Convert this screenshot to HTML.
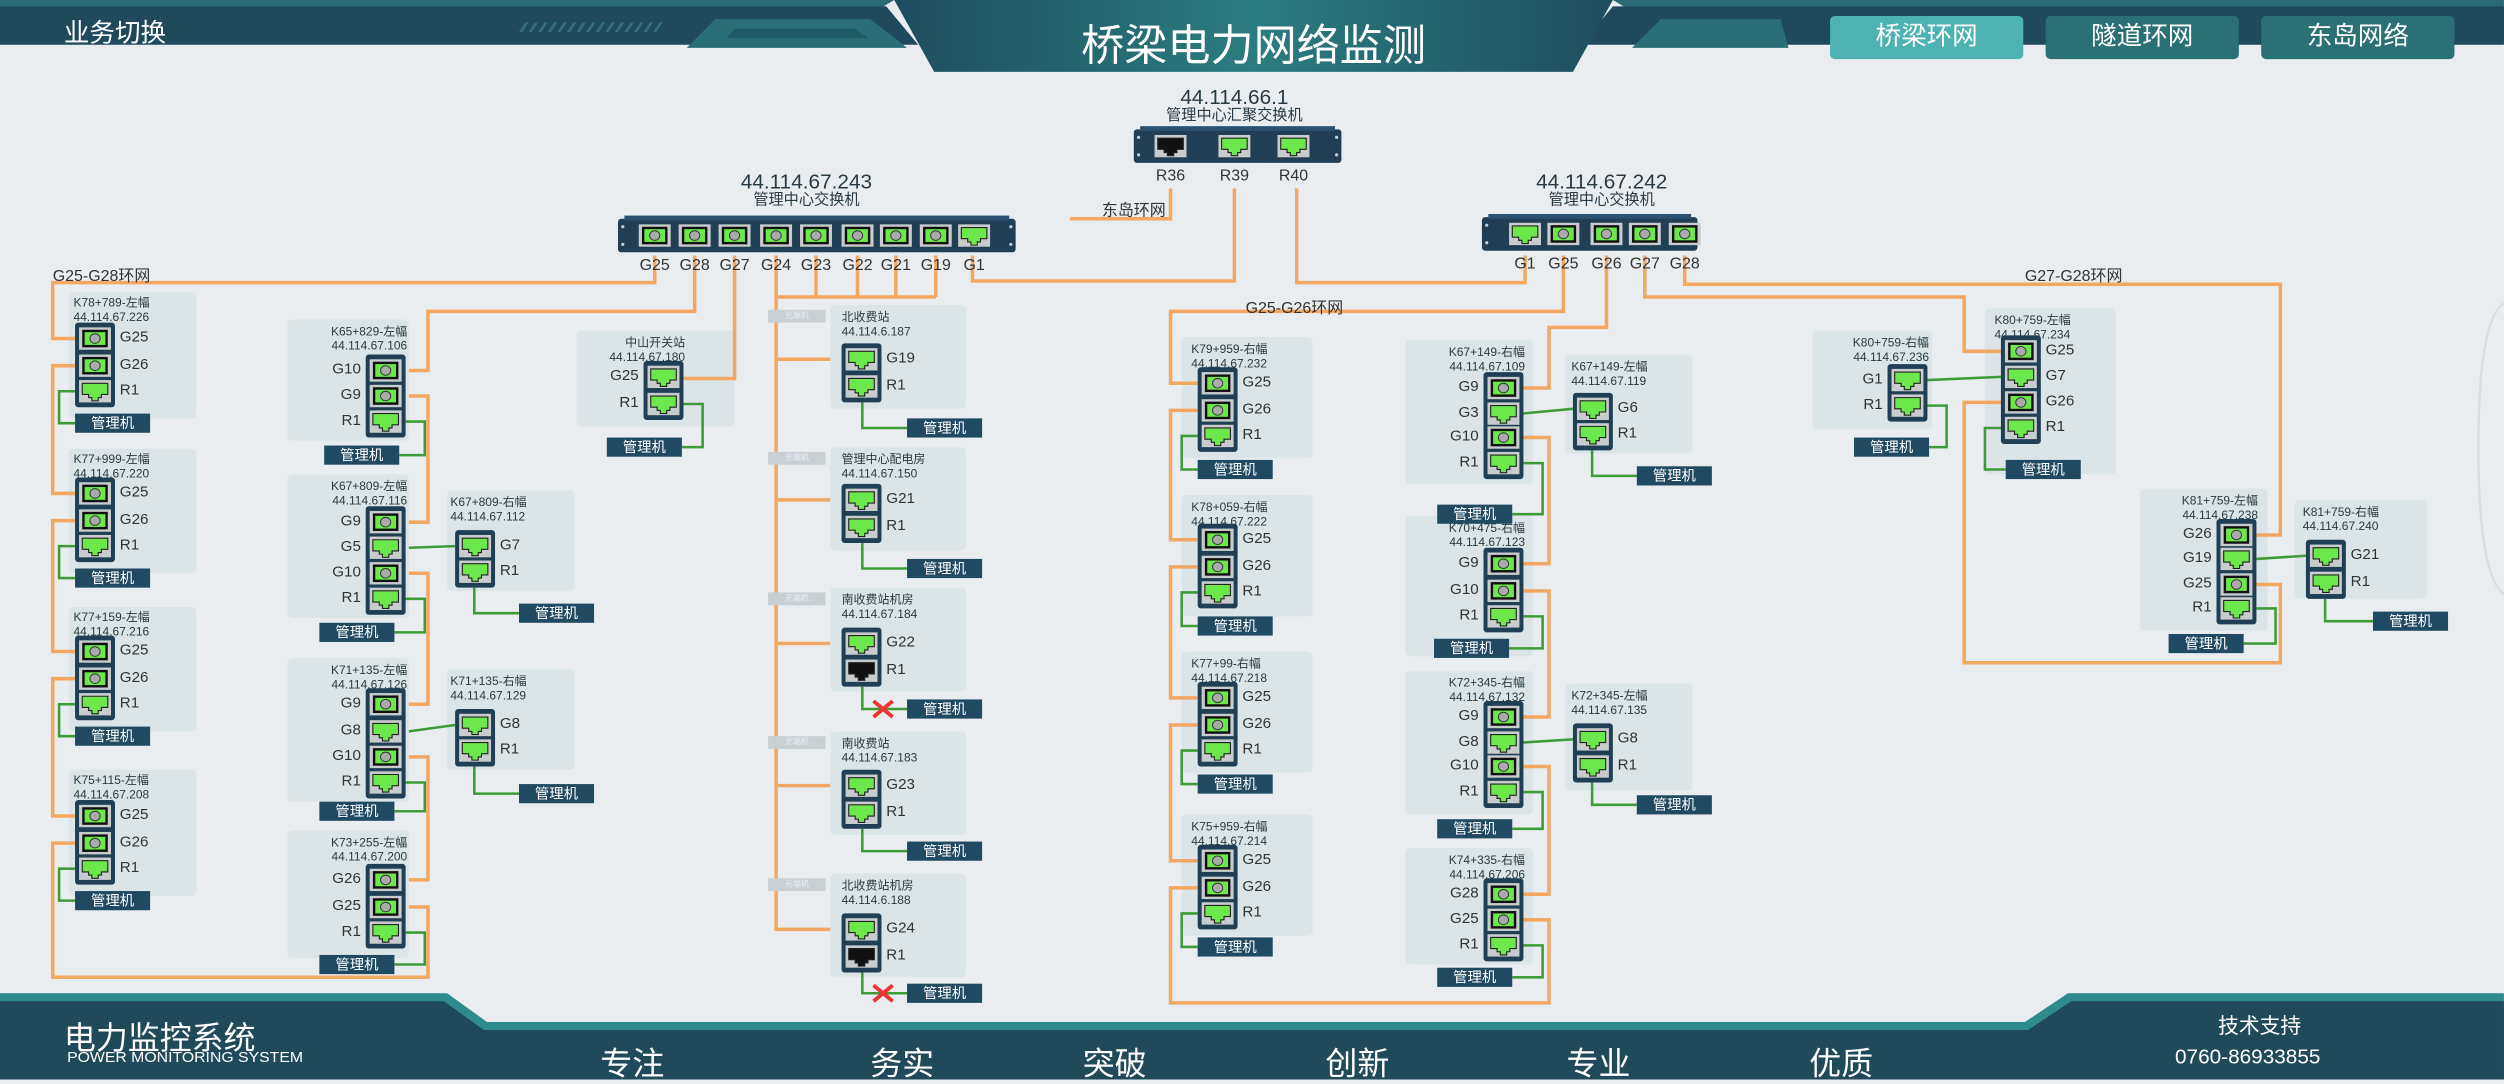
<!DOCTYPE html>
<html><head><meta charset="utf-8"><style>
*{margin:0;padding:0;box-sizing:border-box}
html,body{width:2504px;height:1080px;overflow:hidden;background:#e9edf0}
#w{position:absolute;left:0;top:0;width:1568px;height:676px;transform:scale(1.5969);transform-origin:0 0;font-family:"Liberation Sans","Noto Sans CJK SC",sans-serif;color:#333}
.a{position:absolute;white-space:nowrap}
.st{position:absolute;background:#dbe5e7;border-radius:3px}
.t{position:absolute;font-size:7.5px;line-height:8.5px;color:#2a3a40;white-space:nowrap}
.dv{position:absolute;background:#203f55;border-radius:2px;width:25px}
.pl{position:absolute;font-size:9.5px;line-height:10px;color:#333;white-space:nowrap}
.mg{position:absolute;background:#1f4a62;color:#fff;font-size:9px;line-height:12px;height:12px;width:47px;text-align:center}
.tab{position:absolute;top:10px;height:27px;width:121px;border-radius:3px;color:#fff;font-size:16px;line-height:27px;text-align:center}
.sl{position:absolute;font-size:10px;line-height:10px;color:#333}
.tag{position:absolute;background:#c9d0d4;color:#eef;font-size:5px;line-height:8px;width:36px;height:8px;text-align:center}
svg{position:absolute;left:0;top:0}
</style></head><body><div id="w">
<svg width="1568" height="676" style="z-index:0">
<defs><linearGradient id="tg" x1="0" x2="1"><stop offset="0" stop-color="#1e4d5e"/><stop offset="0.5" stop-color="#2b7d80"/><stop offset="1" stop-color="#1e4d5e"/></linearGradient></defs>
<polygon points="0,0 1568,0 1568,26 1262,26 1262,18 1040,18 1010,0 560,0 530,18 0,18" fill="#2a6a73"/>
<polygon points="0,4 555,4 575,28 0,28" fill="#1f4a5c"/>
<polygon points="1568,4 1010,4 990,28 1568,28" fill="#1f4a5c"/>
<polygon points="560,0 1010,0 985,45 585,45" fill="url(#tg)"/>
<polygon points="448,12 545,12 568,30 430,30" fill="#2a6f76"/>
<polygon points="460,18 535,18 544,24 455,24" fill="#1d5a63"/>
<polygon points="1040,12 1115,12 1120,30 1022,30" fill="#2a6f76"/>
<g fill="#3e8a92" opacity=".6">
<polygon points="325,20 329,14 331,14 327,20"/><polygon points="331,20 335,14 337,14 333,20"/><polygon points="337,20 341,14 343,14 339,20"/><polygon points="343,20 347,14 349,14 345,20"/><polygon points="349,20 353,14 355,14 351,20"/><polygon points="355,20 359,14 361,14 357,20"/><polygon points="361,20 365,14 367,14 363,20"/><polygon points="367,20 371,14 373,14 369,20"/><polygon points="373,20 377,14 379,14 375,20"/><polygon points="379,20 383,14 385,14 381,20"/><polygon points="385,20 389,14 391,14 387,20"/><polygon points="391,20 395,14 397,14 393,20"/><polygon points="397,20 401,14 403,14 399,20"/><polygon points="403,20 407,14 409,14 405,20"/><polygon points="409,20 413,14 415,14 411,20"/>
</g>
<polygon points="0,622 280,622 305,640 1268,640 1295,622 1568,622 1568,676 0,676" fill="#2f8a8c"/>
<polygon points="0,627 278,627 303,645 1270,645 1297,627 1568,627 1568,676 0,676" fill="#1e4a5a"/>
</svg>
<div class="a" style="left:40px;top:7px;font-size:16px;color:#fff">业务切换</div>
<div class="a" style="left:600px;top:7px;width:370px;text-align:center;font-size:27px;color:#fff">桥梁电力网络监测</div>
<div class="tab" style="left:1146px;background:#4fb2b2">桥梁环网</div>
<div class="tab" style="left:1281px;background:#2b7074">隧道环网</div>
<div class="tab" style="left:1416px;background:#2b7074">东岛网络</div>
<div class="a" style="left:40px;top:634px;font-size:20px;color:#fff">电力监控系统</div>
<div class="a" style="left:42px;top:657px;font-size:9px;color:#fff;transform:scaleX(1.1);transform-origin:0 0">POWER MONITORING SYSTEM</div>
<div class="a" style="left:376px;top:650px;font-size:20px;color:#fff">专注</div>
<div class="a" style="left:545px;top:650px;font-size:20px;color:#fff">务实</div>
<div class="a" style="left:678px;top:650px;font-size:20px;color:#fff">突破</div>
<div class="a" style="left:830px;top:650px;font-size:20px;color:#fff">创新</div>
<div class="a" style="left:981px;top:650px;font-size:20px;color:#fff">专业</div>
<div class="a" style="left:1133px;top:650px;font-size:20px;color:#fff">优质</div>
<div class="a" style="left:1389px;top:632px;font-size:13px;color:#fff">技术支持</div>
<div class="a" style="left:1362px;top:654px;font-size:13px;color:#fff">0760-86933855</div>
<div id="g"></div>
</div>
<script>
var G=document.getElementById('g'),H='',S='',T='';
function st(x,y,w,h){H+='<div class="st" style="left:'+x+'px;top:'+y+'px;width:'+w+'px;height:'+h+'px"></div>'}
function tt(x,y,a,b,al){var s=al=='r'?'right:'+(1568-x)+'px':'left:'+x+'px';var ta=al=='r'?'text-align:right;':'';T+='<div class="t" style="'+s+';top:'+y+'px;'+ta+'">'+a+'<br>'+b+'</div>'}
function port(cx,cy,type){
 var s='<rect x="'+(cx-10)+'" y="'+(cy-7)+'" width="20" height="14" fill="#c8cccc"/>';
 if(type=='f'){s+='<rect x="'+(cx-8)+'" y="'+(cy-5.5)+'" width="16" height="11" fill="#111"/><rect x="'+(cx-6.5)+'" y="'+(cy-4)+'" width="13" height="8" fill="#6de84c"/><ellipse cx="'+cx+'" cy="'+cy+'" rx="3.2" ry="3" fill="#aaa" stroke="#333" stroke-width=".6"/>'}
 else{var c=type=='b'?'#111':'#6de84c';s+='<polygon points="'+(cx-8)+','+(cy-5)+' '+(cx+8)+','+(cy-5)+' '+(cx+8)+','+(cy+2)+' '+(cx+4)+','+(cy+2)+' '+(cx+4)+','+(cy+4)+' '+(cx+2)+','+(cy+4)+' '+(cx+2)+','+(cy+6)+' '+(cx-2)+','+(cy+6)+' '+(cx-2)+','+(cy+4)+' '+(cx-4)+','+(cy+4)+' '+(cx-4)+','+(cy+2)+' '+(cx-8)+','+(cy+2)+'" fill="'+c+'" stroke="#222" stroke-width=".7"/>'}
 return s}
function dv(x,ys,ty,lb,side){
 var t=ys[0]-10,b=ys[ys.length-1]+10;
 T+='<svg style="left:'+x+'px;top:'+t+'px;overflow:visible" width="25" height="'+(b-t)+'"><rect x="0" y="0" width="25" height="'+(b-t)+'" rx="2" fill="#203f55"/><g transform="translate('+(-x)+','+(-t)+')">';
 for(var i=0;i<ys.length;i++)T+=port(x+12.5,ys[i],ty[i]);
 T+='</g></svg>';
 for(var i=0;i<ys.length;i++){
  if(side=='r')T+='<div class="pl" style="left:'+(x+28)+'px;top:'+(ys[i]-5)+'px">'+lb[i]+'</div>';
  else T+='<div class="pl" style="right:'+(1568-x+3)+'px;top:'+(ys[i]-5)+'px">'+lb[i]+'</div>';}
}
function mg(x,y){T+='<div class="mg" style="left:'+x+'px;top:'+y+'px">管理机</div>'}
function L(p,c){S+='<polyline points="'+p.join(' ')+'" fill="none" stroke="'+(c||'#f2a862')+'" stroke-width="'+(c?1.6:2.2)+'"/>'}
function gr(p){L(p,'#3f9a3a')}
function X(x,y){S+='<path d="M'+(x-6)+' '+(y-5)+'L'+(x+6)+' '+(y+5)+'M'+(x+6)+' '+(y-5)+'L'+(x-6)+' '+(y+5)+'" stroke="#e33" stroke-width="2.4"/>'}
function sw(x,y,w,ports,ty,lb){
 T+='<svg style="left:'+x+'px;top:'+y+'px;overflow:visible" width="'+w+'" height="21"><rect x="0" y="0" width="'+w+'" height="21" rx="2" fill="#203f55"/><rect x="4" y="-2" width="'+(w-8)+'" height="3" fill="#2a5270"/><circle cx="3" cy="5" r="1" fill="#ccc"/><circle cx="3" cy="16" r="1" fill="#ccc"/><circle cx="'+(w-3)+'" cy="5" r="1" fill="#ccc"/><circle cx="'+(w-3)+'" cy="16" r="1" fill="#ccc"/><g transform="translate('+(-x)+','+(-y)+')">';
 for(var i=0;i<ports.length;i++)T+=port(ports[i],y+10.5,ty[i]);
 T+='</g></svg>';
 for(var i=0;i<ports.length;i++)T+='<div class="sl" style="left:'+(ports[i]-12)+'px;width:24px;text-align:center;top:'+(y+25)+'px">'+lb[i]+'</div>';
}
function lab(x,y,a,b){T+='<div class="a" style="left:'+(x-80)+'px;width:160px;text-align:center;top:'+y+'px;font-size:13px;line-height:13px;color:#2a3a44">'+a+'</div><div class="a" style="left:'+(x-80)+'px;width:160px;text-align:center;top:'+(y+14)+'px;font-size:9.5px;line-height:10px;color:#2a3a44">'+b+'</div>'}
function txt(x,y,s){T+='<div class="a" style="left:'+x+'px;top:'+y+'px;font-size:10px;color:#333">'+s+'</div>'}
lab(773,54,'44.114.66.1','管理中心汇聚交换机');
sw(710,81,130,[733,773,810],['b','r','r'],['R36','R39','R40']);
lab(505,107,'44.114.67.243','管理中心交换机');
sw(387,137,249,[410,435,460,486,511,537,561,586,610],['f','f','f','f','f','f','f','f','r'],['G25','G28','G27','G24','G23','G22','G21','G19','G1']);
lab(1003,107,'44.114.67.242','管理中心交换机');
sw(928,136,135,[955,979,1006,1030,1055],['r','f','f','f','f'],['G1','G25','G26','G27','G28']);
txt(690,123,'东岛环网');txt(33,164,'G25-G28环网');txt(780,184,'G25-G26环网');txt(1268,164,'G27-G28环网');
L([[733,118],[733,137],[670,137]]);L([[609,160],[609,176],[773,176],[773,118]]);L([[812,118],[812,177],[955,177],[955,160]]);
L([[410,160],[410,177],[33,177],[33,212],[47,212]]);
L([[47,229],[33,229],[33,309],[47,309]]);L([[47,326],[33,326],[33,408],[47,408]]);L([[47,425],[33,425],[33,511],[47,511]]);
L([[47,528],[33,528],[33,612],[268,612],[268,568],[256,568]]);
L([[256,551],[268,551],[268,474],[256,474]]);L([[256,441],[268,441],[268,359],[256,359]]);L([[256,327],[268,327],[268,248],[256,248]]);
L([[256,232],[268,232],[268,195],[435,195],[435,160]]);
L([[460,160],[460,237],[428,237]]);
L([[486,160],[486,583]]);L([[511,160],[511,186]]);L([[537,160],[537,186]]);L([[561,160],[561,186]]);L([[586,160],[586,186]]);L([[486,186],[586,186]]);
[225,313,403,492,582].forEach(function(y){L([[486,y],[520,y]])});
L([[979,160],[979,195],[733,195],[733,240],[750,240]]);
L([[750,257],[733,257],[733,338],[750,338]]);L([[750,355],[733,355],[733,437],[750,437]]);L([[750,454],[733,454],[733,539],[750,539]]);
L([[750,556],[733,556],[733,628],[970,628],[970,576],[953,576]]);
L([[953,560],[970,560],[970,480],[953,480]]);L([[953,449],[970,449],[970,370],[953,370]]);L([[953,353],[970,353],[970,274],[953,274]]);
L([[953,243],[970,243],[970,205],[1006,205],[1006,160]]);
L([[1030,160],[1030,186],[1230,186],[1230,220],[1253,220]]);
L([[1253,252],[1230,252],[1230,415],[1428,415],[1428,366],[1413,366]]);
L([[1413,335],[1428,335],[1428,178],[1055,178],[1055,160]]);
gr([[256,343],[285,342]]);gr([[256,458],[285,454]]);gr([[953,259],[985,256]]);gr([[953,465],[985,463]]);gr([[1207,238],[1253,236]]);gr([[1413,350],[1444,348]]);
[[183,212,'K78+789-左幅','44.114.67.226'],[281,309,'K77+999-左幅','44.114.67.220'],[380,408,'K77+159-左幅','44.114.67.216'],[482,511,'K75+115-左幅','44.114.67.208']].forEach(function(d){
 st(43,d[0],80,d[1]-d[0]+50);tt(46,d[0]+3,d[2],d[3]);dv(47,[d[1],d[1]+17,d[1]+33],['f','f','r'],['G25','G26','R1'],'r');mg(47,d[1]+47);
 gr([[47,d[1]+33],[37,d[1]+33],[37,d[1]+53],[47,d[1]+53]]);});
function dL(sx,sy,sw_,sh,t1,t2,bx,ys,ty,lb,mx,my){st(sx,sy,sw_,sh);tt(bx+26,sy+4,t1,t2,'r');dv(bx,ys,ty,lb,'l');mg(mx,my);var r=ys[ys.length-1];gr([[bx+25,r],[bx+37,r],[bx+37,my+6],[mx+47,my+6]]);}
function dR(sx,sy,sw_,sh,t1,t2,bx,ys,ty,lb,mx,my,tx){st(sx,sy,sw_,sh);tt(tx||sx+4,sy+4,t1,t2);dv(bx,ys,ty,lb,'r');mg(mx,my);var r=ys[ys.length-1];gr([[bx+12,r+10],[bx+12,my+6],[mx,my+6]]);}
dL(180,200,76,76,'K65+829-左幅','44.114.67.106',229,[232,248,264],['f','f','r'],['G10','G9','R1'],203,279);
dL(180,297,76,90,'K67+809-左幅','44.114.67.116',229,[327,343,359,375],['f','r','f','r'],['G9','G5','G10','R1'],200,390);
dR(280,307,80,63,'K67+809-右幅','44.114.67.112',285,[342,358],['r','r'],['G7','R1'],325,378,282);
dL(180,412,76,90,'K71+135-左幅','44.114.67.126',229,[441,458,474,490],['f','r','f','r'],['G9','G8','G10','R1'],200,502);
dR(280,419,80,63,'K71+135-右幅','44.114.67.129',285,[454,470],['r','r'],['G8','R1'],325,491,282);
dL(180,520,76,80,'K73+255-左幅','44.114.67.200',229,[551,568,584],['f','f','r'],['G26','G25','R1'],200,598);
dL(361,207,99,60,'中山开关站','44.114.67.180',403,[236,253],['r','r'],['G25','R1'],380,274);
[[191,225,'北收费站','44.114.6.187','G19','r',262],[280,313,'管理中心配电房','44.114.67.150','G21','r',350],[368,403,'南收费站机房','44.114.67.184','G22','b',438],[458,492,'南收费站','44.114.67.183','G23','r',527],[547,582,'北收费站机房','44.114.6.188','G24','b',616]].forEach(function(d){
 st(520,d[0],85,65);tt(527,d[0]+4,d[2],d[3]);dv(527,[d[1],d[1]+17],['r',d[5]],[d[4],'R1'],'r');mg(568,d[6]);
 gr([[540,d[1]+27],[540,d[6]+6],[568,d[6]+6]]);if(d[5]=='b')X(553,d[6]+6);
 T+='<div class="tag" style="left:481px;top:'+(d[0]+3)+'px">光端机</div>';});
[[211,240,'K79+959-右幅','44.114.67.232'],[310,338,'K78+059-右幅','44.114.67.222'],[408,437,'K77+99-右幅','44.114.67.218'],[510,539,'K75+959-右幅','44.114.67.214']].forEach(function(d){
 st(740,d[0],82,76);tt(746,d[0]+4,d[2],d[3]);dv(750,[d[1],d[1]+17,d[1]+33],['f','f','r'],['G25','G26','R1'],'r');mg(750,d[1]+48);
 gr([[750,d[1]+33],[740,d[1]+33],[740,d[1]+54],[750,d[1]+54]]);});
dL(880,213,80,90,'K67+149-右幅','44.114.67.109',929,[243,259,274,290],['f','r','f','r'],['G9','G3','G10','R1'],900,316);
dR(980,222,80,62,'K67+149-左幅','44.114.67.119',985,[256,272],['r','r'],['G6','R1'],1025,292);
dL(880,323,80,88,'K70+475-右幅','44.114.67.123',929,[353,370,386],['f','f','r'],['G9','G10','R1'],898,400);
dL(880,420,80,90,'K72+345-右幅','44.114.67.132',929,[449,465,480,496],['f','r','f','r'],['G9','G8','G10','R1'],900,513);
dR(980,428,80,67,'K72+345-左幅','44.114.67.135',985,[463,480],['r','r'],['G8','R1'],1025,498);
dL(880,531,80,73,'K74+335-右幅','44.114.67.206',929,[560,576,592],['f','f','r'],['G28','G25','R1'],900,606);
dL(1135,207,75,62,'K80+759-右幅','44.114.67.236',1182,[238,254],['r','r'],['G1','R1'],1161,274);
st(1243,193,82,104);tt(1249,197,'K80+759-左幅','44.114.67.234');dv(1253,[220,236,252,268],['f','r','f','r'],['G25','G7','G26','R1'],'r');mg(1256,288);gr([[1253,268],[1243,268],[1243,294],[1256,294]]);
dL(1340,306,80,89,'K81+759-左幅','44.114.67.238',1388,[335,350,366,381],['f','r','f','r'],['G26','G19','G25','R1'],1358,397);
dR(1437,313,83,62,'K81+759-右幅','44.114.67.240',1444,[348,365],['r','r'],['G21','R1'],1486,383,1442);
G.innerHTML=H+'<svg width="1568" height="676">'+S+'</svg>'+T+'<svg width="1568" height="676" style="pointer-events:none"><path d="M1568 190 Q1552 200 1552 280 Q1552 360 1568 372" fill="none" stroke="#d8dde0" stroke-width="1.5"/></svg>';
</script>
</body></html>
